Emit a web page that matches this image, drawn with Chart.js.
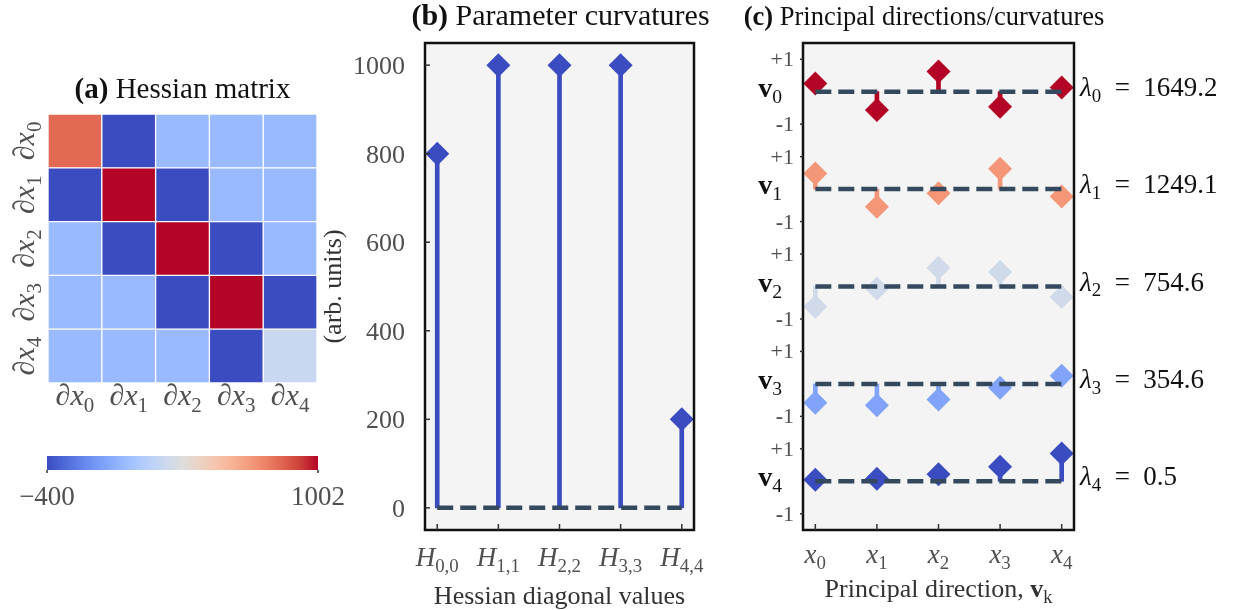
<!DOCTYPE html>
<html>
<head>
<meta charset="utf-8">
<script src="https://cdn.jsdelivr.net/npm/chart.js@4.4.0/dist/chart.umd.min.js"></script>
<style>
  body { margin: 0; background: #fff; width: 1239px; height: 610px; overflow: hidden; position: relative; }
  canvas { position: absolute; }
</style>
</head>
<body>
<canvas id="heat" width="345" height="430" style="left:0px;top:0px"></canvas>
<canvas id="cbar" width="345" height="90" style="left:0px;top:440px"></canvas>
<canvas id="diag" width="400" height="610" style="left:310px;top:0px"></canvas>
<canvas id="dirs" width="499" height="610" style="left:740px;top:0px"></canvas>
<script>
// ---- data ----
const axisNames = ['0', '1', '2', '3', '4'];
const hessian = [
  [800, -400, 0, 0, 0],
  [-400, 1000, -400, 0, 0],
  [0, -400, 1000, -400, 0],
  [0, 0, -400, 1000, -400],
  [0, 0, 0, -400, 200]
];
const cbarRange = [-400, 1002];

const diagNames = ['0,0', '1,1', '2,2', '3,3', '4,4'];
const diagValues = [800, 1000, 1000, 1000, 200];
const diagTicks = [0, 200, 400, 600, 800, 1000];

const lambdas = [1649.2, 1249.1, 754.6, 354.6, 0.5];
const v0 = [0.25, -0.56, 0.62, -0.46, 0.13];
const v1 = [0.48, -0.54, -0.13, 0.63, -0.23];
const v2 = [-0.62, -0.06, 0.58, 0.45, -0.32];
const v3 = [-0.58, -0.66, -0.48, -0.12, 0.25];
const v4 = [0.05, 0.08, 0.22, 0.45, 0.86];
const vectors = [v0, v1, v2, v3, v4];
const ROW_GAP = 3; // vertical spacing between eigenvector rows

// ---- style ----
const FONT = '"Liberation Serif", "Times New Roman", serif';
const GRAY = '#505050';
const STEM_BLUE = '#3b4cc0';
const BASE_COLOR = '#34495e';
const COOLWARM = [
  [59, 76, 192], [77, 104, 215], [98, 130, 234], [119, 154, 247],
  [141, 176, 254], [163, 194, 255], [184, 208, 249], [204, 217, 238],
  [221, 221, 221], [236, 211, 197], [245, 196, 172], [247, 177, 147],
  [244, 154, 123], [236, 127, 99], [222, 96, 77], [203, 62, 56], [180, 4, 38]
];

function coolwarm(t) {
  t = Math.max(0, Math.min(1, t));
  const p = t * (COOLWARM.length - 1);
  const i = Math.min(Math.floor(p), COOLWARM.length - 2);
  const f = p - i;
  const c = COOLWARM[i].map((a, k) => Math.round(a + (COOLWARM[i + 1][k] - a) * f));
  return `rgb(${c[0]},${c[1]},${c[2]})`;
}

// text with bold / italic / subscript runs: [text, style]
function runFont(st, size) {
  const sz = st.includes('s') ? size * 0.7 : size;
  return (st.includes('i') ? 'italic ' : '') + (st.includes('b') ? 'bold ' : '') + sz + 'px ' + FONT;
}
function richWidth(ctx, runs, size) {
  let w = 0;
  runs.forEach(([t, st]) => { ctx.font = runFont(st, size); w += ctx.measureText(t).width; });
  return w;
}
function drawRich(ctx, runs, x, y, size, align, color) {
  ctx.save();
  ctx.fillStyle = color;
  ctx.textBaseline = 'alphabetic';
  ctx.textAlign = 'left';
  const w = richWidth(ctx, runs, size);
  let cx = align === 'center' ? x - w / 2 : align === 'right' ? x - w : x;
  runs.forEach(([t, st]) => {
    ctx.font = runFont(st, size);
    ctx.fillText(t, cx, st.includes('s') ? y + size * 0.22 : y);
    cx += ctx.measureText(t).width;
  });
  ctx.restore();
}

const baseOpts = {
  responsive: false,
  animation: false,
  events: [],
  plugins: { legend: { display: false }, tooltip: { enabled: false } }
};

const framePlugin = {
  id: 'frame',
  beforeDraw(chart) {
    const { ctx, chartArea: a } = chart;
    ctx.save();
    ctx.fillStyle = '#f4f4f4';
    ctx.fillRect(a.left, a.top, a.right - a.left, a.bottom - a.top);
    ctx.restore();
  },
  afterDraw(chart) {
    const { ctx, chartArea: a } = chart;
    ctx.save();
    ctx.strokeStyle = '#111';
    ctx.lineWidth = 2.5;
    ctx.strokeRect(a.left, a.top, a.right - a.left, a.bottom - a.top);
    ctx.restore();
  }
};

// ---- (a) Hessian heatmap ----
const heatLabels = {
  id: 'heatLabels',
  afterDraw(chart) {
    const { ctx, chartArea: a, scales: { x, y } } = chart;
    drawRich(ctx, [['(a)', 'b'], [' Hessian matrix', '']], (a.left + a.right) / 2, 98, 29, 'center', '#111');
    axisNames.forEach((n, i) => {
      const runs = [['∂', 'i'], ['x', 'i'], [n, 's']];
      drawRich(ctx, runs, x.getPixelForValue(i), 405, 30, 'center', GRAY);
      ctx.save();
      ctx.translate(24, y.getPixelForValue(hessian.length - i - 0.5));
      ctx.rotate(-Math.PI / 2);
      drawRich(ctx, runs, 0, 10, 30, 'center', GRAY);
      ctx.restore();
    });
  }
};

new Chart(document.getElementById('heat'), {
  type: 'bar',
  data: {
    labels: axisNames,
    datasets: hessian.map(row => ({
      data: row.map(() => 1),
      backgroundColor: row.map(v => coolwarm((v - cbarRange[0]) / (cbarRange[1] - cbarRange[0]))),
      borderColor: '#fff',
      borderWidth: 1,
      borderSkipped: false,
      categoryPercentage: 1,
      barPercentage: 1
    })).reverse()
  },
  options: {
    ...baseOpts,
    layout: { padding: { left: 48, top: 114, right: 28, bottom: 47 } },
    scales: {
      x: { display: false, stacked: true },
      y: { display: false, stacked: true, min: 0, max: hessian.length }
    }
  },
  plugins: [heatLabels]
});

// colour bar
const cbarLabels = {
  id: 'cbarLabels',
  afterDraw(chart) {
    const { ctx, chartArea: a, scales: { x } } = chart;
    ctx.save();
    ctx.strokeStyle = '#333';
    ctx.lineWidth = 1.5;
    cbarRange.forEach(v => {
      const px = x.getPixelForValue(v);
      ctx.beginPath();
      ctx.moveTo(px, a.bottom);
      ctx.lineTo(px, a.bottom + 3);
      ctx.stroke();
      const txt = v < 0 ? '\u2212' + Math.abs(v) : String(v);
      drawRich(ctx, [[txt, '']], px, 65, 27, 'center', GRAY);
    });
    ctx.restore();
  }
};

new Chart(document.getElementById('cbar'), {
  type: 'bar',
  data: {
    labels: [''],
    datasets: [{
      data: [cbarRange],
      backgroundColor: c => {
        const { ctx, chartArea } = c.chart;
        if (!chartArea) return coolwarm(0.5);
        const g = ctx.createLinearGradient(chartArea.left, 0, chartArea.right, 0);
        COOLWARM.forEach((rgb, i) => g.addColorStop(i / (COOLWARM.length - 1), `rgb(${rgb.join(',')})`));
        return g;
      },
      borderWidth: 0,
      categoryPercentage: 1,
      barPercentage: 1
    }]
  },
  options: {
    ...baseOpts,
    indexAxis: 'y',
    layout: { padding: { left: 47, top: 16, right: 27, bottom: 60 } },
    scales: {
      x: { display: false, min: cbarRange[0], max: cbarRange[1] },
      y: { display: false }
    }
  },
  plugins: [cbarLabels]
});

// ---- (b) diagonal stems ----
const diagLabels = {
  id: 'diagLabels',
  afterDraw(chart) {
    const { ctx, chartArea: a, scales: { x, y } } = chart;
    const mid = (a.left + a.right) / 2;
    drawRich(ctx, [['(b)', 'b'], [' Parameter curvatures', '']], mid + 1, 25, 30, 'center', '#111');
    ctx.save();
    ctx.strokeStyle = '#333';
    ctx.lineWidth = 1.5;
    diagTicks.forEach(v => {
      const py = y.getPixelForValue(v);
      ctx.beginPath(); ctx.moveTo(a.left, py); ctx.lineTo(a.left + 5, py); ctx.stroke();
      drawRich(ctx, [[String(v), '']], a.left - 20, py + 9, 26, 'right', GRAY);
    });
    diagNames.forEach((n, i) => {
      const px = x.getPixelForValue(i);
      ctx.beginPath(); ctx.moveTo(px, a.bottom); ctx.lineTo(px, a.bottom - 6); ctx.stroke();
      drawRich(ctx, [['H', 'i'], [n, 's']], px, 566, 27, 'center', GRAY);
    });
    ctx.restore();
    drawRich(ctx, [['Hessian diagonal values', '']], mid, 604, 26, 'center', '#333');
    ctx.save();
    ctx.translate(22, (a.top + a.bottom) / 2);
    ctx.rotate(-Math.PI / 2);
    drawRich(ctx, [['(arb. units)', '']], 0, 9, 26, 'center', '#333');
    ctx.restore();
  }
};

new Chart(document.getElementById('diag'), {
  type: 'bar',
  data: {
    datasets: [
      {
        type: 'bar',
        data: diagValues.map((v, i) => ({ x: i, y: [0, v] })),
        backgroundColor: STEM_BLUE,
        barThickness: 4,
        borderWidth: 0,
        order: 3
      },
      {
        type: 'line',
        data: diagValues.map((v, i) => ({ x: i, y: v })),
        showLine: false,
        pointStyle: 'rectRot',
        pointRadius: 12,
        pointBackgroundColor: STEM_BLUE,
        pointBorderWidth: 0,
        clip: false,
        order: 2
      },
      {
        type: 'line',
        data: [{ x: 0, y: 0 }, { x: diagValues.length - 1, y: 0 }],
        borderColor: BASE_COLOR,
        borderWidth: 4.5,
        borderDash: [16, 7],
        pointRadius: 0,
        order: 1
      }
    ]
  },
  options: {
    ...baseOpts,
    layout: { padding: { left: 115, top: 43, right: 16, bottom: 80 } },
    scales: {
      x: { type: 'linear', display: false, offset: false, min: -0.2, max: 4.2 },
      y: { display: false, min: -50, max: 1050 }
    }
  },
  plugins: [framePlugin, diagLabels]
});

// ---- (c) principal directions ----
const rowColors = lambdas.map(l => coolwarm(l / Math.max(...lambdas)));

const dirLabels = {
  id: 'dirLabels',
  afterDraw(chart) {
    const { ctx, chartArea: a, scales: { x, y } } = chart;
    drawRich(ctx, [['(c)', 'b'], [' Principal directions/curvatures', '']], 184, 25, 26.5, 'center', '#111');
    ctx.save();
    ctx.strokeStyle = '#333';
    ctx.lineWidth = 1.5;
    vectors.forEach((vec, k) => {
      const c = -ROW_GAP * k;
      [[c + 1, [['+1', '']]], [c - 1, [['-', 'b'], ['1', '']]]].forEach(([v, runs]) => {
        const py = y.getPixelForValue(v);
        ctx.beginPath(); ctx.moveTo(a.left - 3, py); ctx.lineTo(a.left, py); ctx.stroke();
        drawRich(ctx, runs, a.left - 9, py + 7, 22, 'right', GRAY);
      });
      const pc = y.getPixelForValue(c);
      drawRich(ctx, [['v', 'b'], [String(k), 's']], a.left - 21, pc + 5, 28, 'right', '#111');
      drawRich(ctx, [['λ', 'i'], [String(k), 's'], ['  =  ' + lambdas[k].toFixed(1), '']], 340, pc + 4, 27, 'left', '#111');
    });
    axisNames.forEach((n, i) => {
      const px = x.getPixelForValue(i);
      ctx.beginPath(); ctx.moveTo(px, a.bottom); ctx.lineTo(px, a.bottom - 6); ctx.stroke();
      drawRich(ctx, [['x', 'i'], [n, 's']], px, 563, 27, 'center', GRAY);
    });
    ctx.restore();
    drawRich(ctx, [['Principal direction, ', ''], ['v', 'b'], ['k', 's']], (a.left + a.right) / 2, 597, 26, 'center', '#333');
  }
};

const dirSets = [];
vectors.forEach((vec, k) => {
  const c = -ROW_GAP * k;
  dirSets.push({
    type: 'bar',
    data: vec.map((v, i) => ({ x: i, y: [c, c + v] })),
    backgroundColor: rowColors[k],
    grouped: false,
    barThickness: 4,
    maxBarThickness: 4,
    borderWidth: 0,
    order: 3
  });
  dirSets.push({
    type: 'line',
    data: vec.map((v, i) => ({ x: i, y: c + v })),
    showLine: false,
    pointStyle: 'rectRot',
    pointRadius: 12,
    pointBackgroundColor: rowColors[k],
    pointBorderWidth: 0,
    clip: false,
    order: 2
  });
  dirSets.push({
    type: 'line',
    data: [{ x: 0, y: c }, { x: vec.length - 1, y: c }],
    borderColor: BASE_COLOR,
    borderWidth: 4.5,
    borderDash: [16, 7],
    pointRadius: 0,
    order: 1
  });
});

new Chart(document.getElementById('dirs'), {
  type: 'bar',
  data: { datasets: dirSets },
  options: {
    ...baseOpts,
    layout: { padding: { left: 63, top: 43, right: 165, bottom: 80 } },
    scales: {
      x: { type: 'linear', display: false, offset: false, min: -0.2, max: 4.2 },
      y: { display: false, min: -ROW_GAP * (vectors.length - 1) - 1.5, max: 1.5 }
    }
  },
  plugins: [framePlugin, dirLabels]
});
</script>
</body>
</html>
